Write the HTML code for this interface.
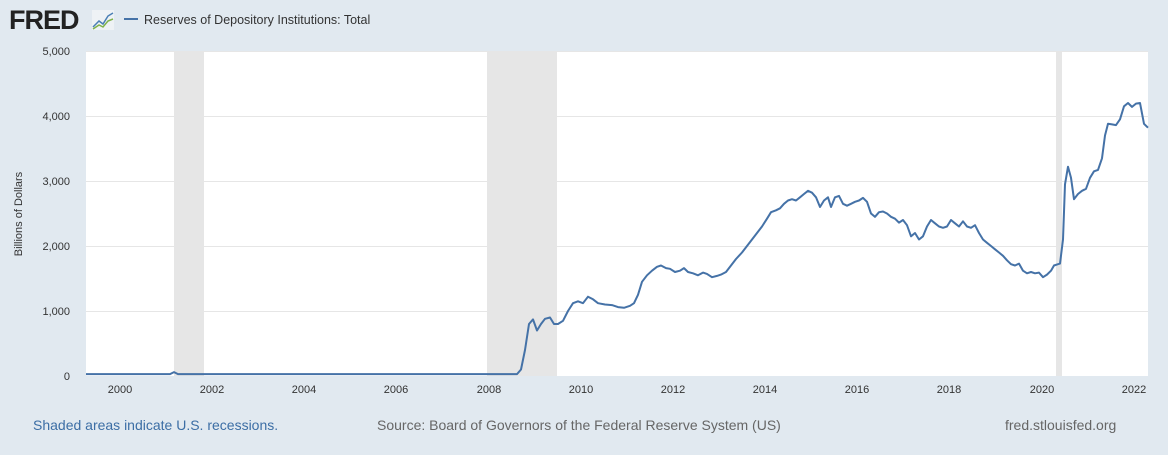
<!DOCTYPE html>
<html><head><meta charset="utf-8"><style>
body{margin:0;width:1168px;height:450px;background:#e1e9f0;font-family:"Liberation Sans",Arial,sans-serif;overflow:hidden}
</style></head><body>
<svg width="1168" height="450" xmlns="http://www.w3.org/2000/svg" font-family="Liberation Sans, Arial, sans-serif">
<rect width="1168" height="450" fill="#e1e9f0"/>
<text x="9" y="29" font-size="27" font-weight="bold" fill="#222" letter-spacing="-1">FRED</text>
<rect x="92" y="10" width="22" height="20" fill="#eef2f5"/>
<polyline points="93,27 99,21 103,24 108,16 113,13" fill="none" stroke="#4a7fb5" stroke-width="1.5"/>
<polyline points="93,29 99,25 103,27 108,21 113,19" fill="none" stroke="#7fb24a" stroke-width="1.5"/>
<line x1="124" y1="19" x2="138" y2="19" stroke="#4572a7" stroke-width="2"/>
<text x="144" y="24" font-size="12.5" fill="#333">Reserves of Depository Institutions: Total</text>
<rect x="86" y="51" width="1062" height="325" fill="#fff"/>
<rect x="174" y="51" width="30" height="325" fill="#e6e6e6"/>
<rect x="487" y="51" width="70" height="325" fill="#e6e6e6"/>
<rect x="1056" y="51" width="6" height="325" fill="#e6e6e6"/>
<g stroke="#e6e6e6" stroke-width="1">
<line x1="86" y1="51.5" x2="1148" y2="51.5"/><line x1="86" y1="116.5" x2="1148" y2="116.5"/>
<line x1="86" y1="181.5" x2="1148" y2="181.5"/><line x1="86" y1="246.5" x2="1148" y2="246.5"/>
<line x1="86" y1="311.5" x2="1148" y2="311.5"/>
</g>
<g font-size="11" fill="#333" text-anchor="end">
<text x="70" y="55">5,000</text><text x="70" y="120">4,000</text><text x="70" y="185">3,000</text>
<text x="70" y="250">2,000</text><text x="70" y="315">1,000</text><text x="70" y="380">0</text>
</g>
<g font-size="11" fill="#333" text-anchor="middle">
<text x="120" y="393">2000</text><text x="212" y="393">2002</text><text x="304" y="393">2004</text>
<text x="396" y="393">2006</text><text x="489" y="393">2008</text><text x="581" y="393">2010</text>
<text x="673" y="393">2012</text><text x="765" y="393">2014</text><text x="857" y="393">2016</text>
<text x="949" y="393">2018</text><text x="1042" y="393">2020</text><text x="1134" y="393">2022</text>
</g>
<text transform="translate(22,214) rotate(-90)" font-size="11" fill="#333" text-anchor="middle">Billions of Dollars</text>
<path id="ln" fill="none" stroke="#4572a7" stroke-width="2" stroke-linejoin="round"/>
<text x="33" y="430" font-size="14" fill="#3c6ea5">Shaded areas indicate U.S. recessions.</text>
<text x="377" y="430" font-size="14" fill="#666">Source: Board of Governors of the Federal Reserve System (US)</text>
<text x="1005" y="430" font-size="14" fill="#666">fred.stlouisfed.org</text>
</svg>
<script>
var d=[86,30,170,30,174,60,178,30,517,30,521,100,525,400,529,800,533,870,537,700,541,800,545,880,550,900,554,800,558,800,563,850,568,1000,573,1120,578,1150,583,1120,588,1220,593,1180,598,1120,605,1100,612,1090,618,1060,624,1050,630,1080,634,1120,638,1250,642,1450,647,1550,652,1620,657,1680,661,1700,666,1660,670,1650,675,1600,680,1620,684,1660,688,1600,693,1580,698,1550,703,1590,707,1570,712,1520,717,1540,721,1560,726,1600,731,1700,736,1800,742,1900,747,2000,752,2100,757,2200,762,2300,767,2420,771,2520,776,2550,780,2580,784,2650,788,2700,792,2720,796,2700,800,2750,804,2800,808,2850,812,2820,816,2750,820,2600,824,2700,828,2750,831,2600,835,2750,839,2770,843,2650,847,2620,851,2650,855,2680,859,2700,863,2740,867,2680,871,2500,875,2450,879,2520,883,2530,887,2500,891,2450,895,2420,899,2360,903,2400,907,2320,911,2150,915,2200,919,2100,923,2150,927,2300,931,2400,935,2350,939,2300,943,2280,947,2300,951,2400,955,2350,959,2300,963,2380,967,2300,971,2280,975,2320,979,2200,983,2100,987,2050,991,2000,995,1950,999,1900,1003,1850,1007,1780,1011,1720,1015,1700,1019,1730,1023,1620,1027,1580,1031,1600,1035,1580,1039,1590,1043,1520,1047,1560,1051,1620,1054,1700,1058,1720,1060,1730,1063,2100,1065,2950,1068,3220,1071,3050,1074,2720,1078,2800,1082,2850,1086,2880,1090,3050,1094,3150,1098,3170,1102,3350,1105,3700,1108,3880,1112,3870,1116,3860,1120,3950,1124,4150,1128,4200,1132,4140,1136,4190,1140,4200,1144,3880,1148,3820];
var s="";for(var i=0;i<d.length;i+=2){s+=(i?"L":"M")+d[i]+","+(376-d[i+1]*0.065).toFixed(1);}
document.getElementById("ln").setAttribute("d",s);
</script>
</body></html>
